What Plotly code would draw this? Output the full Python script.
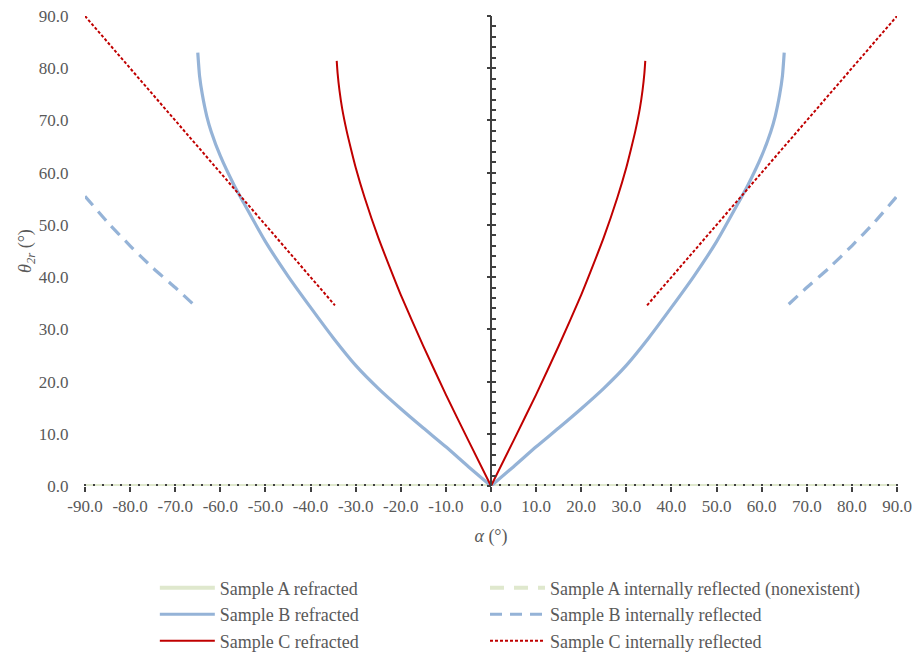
import plotly.graph_objects as go

# ---- data (right branch; the left branch is its mirror image) ----
alpha_A = [0, 90]
theta_A = [0, 0]

alpha_B = [0, 5, 10, 15, 20, 25, 30, 35, 40, 45, 50, 55, 57, 60, 62, 63, 64, 64.6, 65]
theta_B = [0, 3.7, 7.5, 11.1, 14.8, 18.7, 23.1, 28.4, 34.2, 40.2, 46.8, 54.5, 57.7, 63.2, 67.8, 70.8, 75.0, 78.5, 83.0]

alpha_B_int = [66, 70, 75, 80, 85, 90]
theta_B_int = [34.8, 38.0, 41.8, 46.0, 50.5, 55.5]

alpha_C = [0, 5, 10, 15, 20, 22, 25, 28, 30, 31, 32, 33, 33.6, 34, 34.2]
theta_C = [0, 8.7, 17.5, 26.8, 36.6, 40.9, 47.6, 55.2, 61.0, 64.4, 68.0, 72.3, 75.8, 79.0, 81.4]

alpha_C_int = [34.6, 40, 50, 60, 70, 80, 90]
theta_C_int = [34.6, 40, 50, 60, 70, 80, 90]

x_ticks = [-90, -80, -70, -60, -50, -40, -30, -20, -10, 0, 10, 20, 30, 40, 50, 60, 70, 80, 90]
x_tick_labels = ["-90.0", "-80.0", "-70.0", "-60.0", "-50.0", "-40.0", "-30.0", "-20.0", "-10.0",
                 "0.0", "10.0", "20.0", "30.0", "40.0", "50.0", "60.0", "70.0", "80.0", "90.0"]
y_ticks = [0, 10, 20, 30, 40, 50, 60, 70, 80, 90]
y_tick_labels = ["0.0", "10.0", "20.0", "30.0", "40.0", "50.0", "60.0", "70.0", "80.0", "90.0"]

names = ["Sample A refracted", "Sample A internally reflected (nonexistent)",
         "Sample B refracted", "Sample B internally reflected",
         "Sample C refracted", "Sample C internally reflected"]

GREEN = "#DFE8CD"
BLUE = "#95B3D7"
RED = "#C00000"
GRAY = "#595959"
FONT = '"Liberation Serif", "DejaVu Serif", serif'


def mirror(a, t):
    xs = [-v for v in reversed(a)] + [None] + list(a)
    ys = list(reversed(t)) + [None] + list(t)
    return xs, ys


fig = go.Figure()

xa = [-v for v in reversed(alpha_A)] + list(alpha_A)
ya = list(reversed(theta_A)) + list(theta_A)
fig.add_trace(go.Scatter(x=xa, y=ya, mode="lines", name=names[0], legend="legend",
                         line=dict(color=GREEN, width=4), cliponaxis=False, hoverinfo="skip"))
fig.add_trace(go.Scatter(x=[None], y=[None], mode="lines", name=names[1], legend="legend2",
                         line=dict(color=GREEN, width=4, dash="14px,10px")))
xb, yb = mirror(alpha_B, theta_B)
fig.add_trace(go.Scatter(x=xb, y=yb, mode="lines", name=names[2], legend="legend",
                         line=dict(color=BLUE, width=3.2, shape="spline", smoothing=0.6)))
xbi, ybi = mirror(alpha_B_int, theta_B_int)
fig.add_trace(go.Scatter(x=xbi, y=ybi, mode="lines", name=names[3], legend="legend2",
                         line=dict(color=BLUE, width=3.2, dash="12px,8px", shape="spline", smoothing=0.6)))
xc, yc = mirror(alpha_C, theta_C)
fig.add_trace(go.Scatter(x=xc, y=yc, mode="lines", name=names[4], legend="legend",
                         line=dict(color=RED, width=2, shape="spline", smoothing=0.6)))
xci, yci = mirror(alpha_C_int, theta_C_int)
fig.add_trace(go.Scatter(x=xci, y=yci, mode="lines", name=names[5], legend="legend2",
                         line=dict(color=RED, width=2, dash="3px,2px")))

# dummy traces to anchor the central y axes
for ax in ["y2", "y3"]:
    fig.add_trace(go.Scatter(x=[0], y=[0], yaxis=ax, mode="lines", showlegend=False,
                             hoverinfo="skip", line=dict(color="rgba(0,0,0,0)")))

legend_common = dict(orientation="v", yanchor="top", y=-0.178, xanchor="left",
                     itemwidth=55, font=dict(family=FONT, size=18, color=GRAY),
                     traceorder="normal", bgcolor="rgba(0,0,0,0)")

fig.update_layout(
    width=914, height=652,
    margin=dict(l=85, r=17, t=16, b=166, autoexpand=False),
    paper_bgcolor="white", plot_bgcolor="white",
    font=dict(family=FONT, color=GRAY, size=17),
    showlegend=True,
    legend=dict(x=0.086, **legend_common),
    legend2=dict(x=0.4926, **legend_common),
    xaxis=dict(range=[-90, 90], tickvals=x_ticks, ticktext=x_tick_labels, automargin=False,
               ticklabeloverflow="allow",
               showgrid=False, zeroline=False, showline=False,
               ticks="outside", ticklen=5, tickwidth=1.5, tickcolor="#404040",
               minor=dict(ticks="inside", dtick=2, ticklen=2, tickwidth=1.5,
                          tickcolor="#404040", showgrid=False),
               tickfont=dict(family=FONT, size=17, color=GRAY),
               title=dict(text="<i>α</i> (°)", font=dict(family=FONT, size=18, color=GRAY),
                          standoff=13)),
    yaxis=dict(range=[0, 90], tickvals=y_ticks, ticktext=y_tick_labels, automargin=False,
               ticklabeloverflow="allow",
               showgrid=False, zeroline=False, showline=False,
               ticks="outside", ticklen=12, tickcolor="rgba(0,0,0,0)",
               tickfont=dict(family=FONT, size=17, color=GRAY),
               title=dict(text="<i>θ</i><sub><i>2r</i></sub> (°)",
                          font=dict(family=FONT, size=18, color=GRAY), standoff=2)),
    yaxis2=dict(range=[0, 90], overlaying="y", anchor="free", position=0.5, side="left",
                tickvals=y_ticks, showticklabels=False, showgrid=False, zeroline=False,
                showline=True, linecolor="#404040", linewidth=2,
                ticks="inside", ticklen=4, tickwidth=1.5, tickcolor="#404040",
                minor=dict(ticks="inside", dtick=2, ticklen=4, tickwidth=1.5,
                           tickcolor="#404040", showgrid=False)),
    yaxis3=dict(range=[0, 90], overlaying="y", anchor="free", position=0.5, side="left",
                tickvals=y_ticks, showticklabels=False, showgrid=False, zeroline=False,
                showline=False, ticks="outside", ticklen=4, tickwidth=1.5, tickcolor="#404040"),
)

fig.write_html("out.html",
               config={"displayModeBar": False},
               post_script="document.body.style.margin='0';"
                           "document.documentElement.style.overflow='hidden';")
